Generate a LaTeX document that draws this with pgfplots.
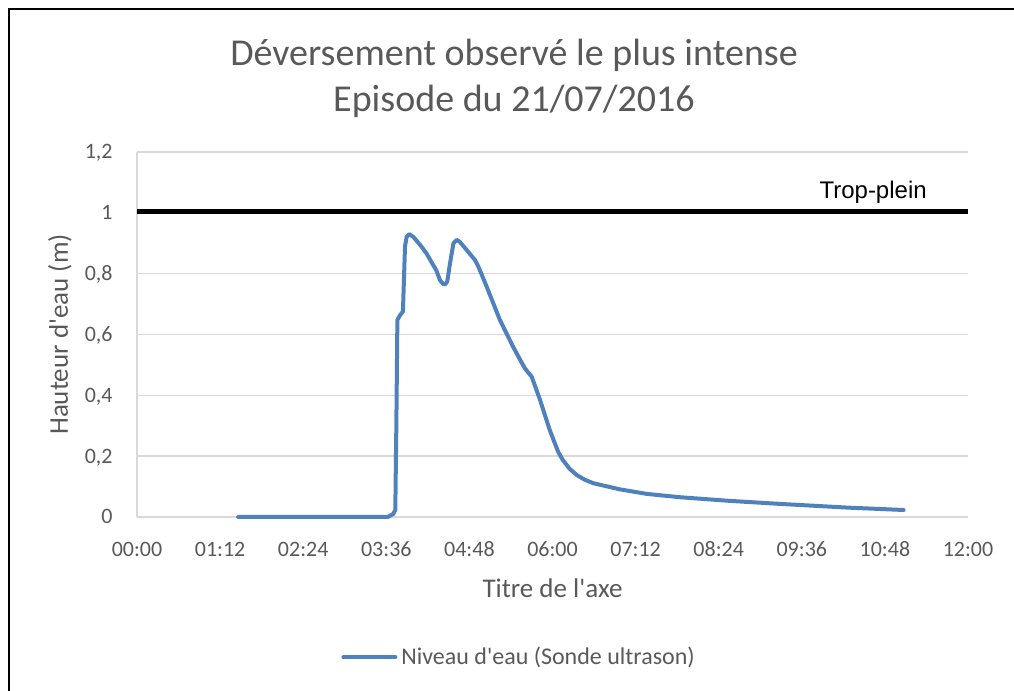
\documentclass[border=0pt]{standalone}
\usepackage{pgfplots}
\pgfplotsset{compat=1.18}
\usepackage{fontspec}
\setmainfont{Carlito}
\newfontfamily\arialfont{Liberation Sans}
\definecolor{txtgray}{RGB}{89,89,89}
\definecolor{gridgray}{RGB}{217,217,217}
\definecolor{serieblue}{RGB}{79,129,189}
\begin{document}
\begin{tikzpicture}
\useasboundingbox (0,0) rectangle (507pt,345.5pt);
% cadre du graphique (bords haut et gauche)
\draw[line width=1.4pt] (4.5pt,0) -- (4.5pt,341pt) -- (507pt,341pt);
% titre
\node[text=txtgray,font=\fontsize{19}{22}\selectfont] at (257pt,318pt) {Déversement observé le plus intense};
\node[text=txtgray,font=\fontsize{19}{22}\selectfont] at (257pt,295pt) {Episode du 21/07/2016};
\begin{axis}[
  at={(68.5pt,87pt)}, anchor=south west,
  scale only axis, width=415.5pt, height=182.5pt,
  xmin=0, xmax=12, ymin=0, ymax=1.2,
  xtick={0,1.2,2.4,3.6,4.8,6,7.2,8.4,9.6,10.8,12},
  xticklabels={00:00,01:12,02:24,03:36,04:48,06:00,07:12,08:24,09:36,10:48,12:00},
  ytick={0,0.2,0.4,0.6,0.8,1,1.2},
  yticklabels={0,{0,2},{0,4},{0,6},{0,8},1,{1,2}},
  major tick length=0pt,
  axis x line*=bottom, axis y line*=left,
  axis line style={gridgray, line width=0.8pt, -},
  ymajorgrids, grid style={gridgray, line width=0.8pt},
  tick label style={text=txtgray, font=\fontsize{11}{13}\selectfont, inner sep=0pt},
  xticklabel style={anchor=center, yshift=-16pt},
  yticklabel style={anchor=base east, xshift=-12pt, yshift=-3.5pt},
  xlabel={Titre de l\textquotesingle axe},
  ylabel={Hauteur d\textquotesingle eau (m)},
  label style={text=txtgray, font=\fontsize{13.5}{15}\selectfont},
  xlabel style={at={(0.5,-0.1945)}, anchor=center},
  ylabel style={at={(-0.0927,0.5)}, anchor=center},
  legend style={at={(0.461,-0.384)}, anchor=center, draw=none, fill=none,
    font=\fontsize{12}{14}\selectfont, text=txtgray},
  legend image code/.code={\draw[#1] (0pt,0pt) -- (26pt,0pt);},
  clip=false,
]
\addplot[serieblue, line width=2pt, line join=round, line cap=round] coordinates {
(1.46,0) (3.62,0) (3.70,0.010) (3.73,0.023) (3.745,0.30) (3.76,0.648)
(3.80,0.664) (3.84,0.675) (3.87,0.889) (3.894,0.921) (3.93,0.930) (3.99,0.921)
(4.09,0.894) (4.18,0.867) (4.25,0.839) (4.32,0.812) (4.375,0.779) (4.42,0.766)
(4.45,0.765) (4.48,0.774) (4.52,0.834) (4.57,0.900) (4.616,0.911) (4.66,0.905)
(4.76,0.878) (4.88,0.845) (4.93,0.823) (5.05,0.757) (5.24,0.648) (5.43,0.560)
(5.60,0.489) (5.70,0.461) (5.82,0.385) (5.96,0.286) (6.08,0.215) (6.15,0.187)
(6.25,0.158) (6.35,0.138) (6.47,0.122) (6.59,0.111) (6.97,0.091) (7.36,0.076)
(7.84,0.065) (8.56,0.053) (9.29,0.043) (10.25,0.031) (11.07,0.023)
};
\addlegendentry{Niveau d\textquotesingle eau (Sonde ultrason)}
\addplot[black, line width=2.5pt, forget plot] coordinates {(0,1.005) (12,1.005)};
\node[font=\arialfont\fontsize{12}{14}\selectfont, text=black] at (axis cs:10.63,1.068) {Trop-plein};
\end{axis}
\end{tikzpicture}
\end{document}
